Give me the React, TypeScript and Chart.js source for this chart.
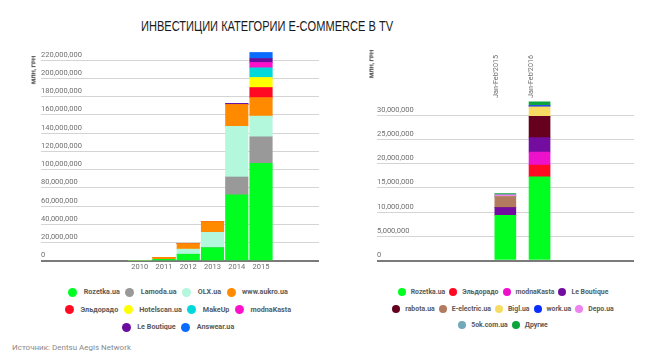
import React, { useEffect, useRef } from 'react';
import { Chart, registerables } from 'chart.js';

Chart.register(...registerables);

const M = 1000000;

// ---------- Left chart: years ----------
const years = [2010, 2011, 2012, 2013, 2014, 2015];
const leftNames = ['Rozetka.ua', 'Lamoda.ua', 'OLX.ua', 'www.aukro.ua', 'Эльдорадо', 'Hotelscan.ua', 'MakeUp', 'modnaKasta', 'Le Boutique', 'Answear.ua'];
const leftColors = ['#00ff21', '#999999', '#b3f7dc', '#ff8a00', '#ff0a22', '#ffff00', '#00d9d9', '#ff11cc', '#6a0d9e', '#0a6cff'];
const leftLegendRows = [4, 4, 2];
// values in millions UAH
const rozetkaYears = [0, 1.8, 7.4, 14.6, 72.6, 107];
const lamodaYears = [0, 0, 0, 0, 19.4, 29];
const olxYears = [0, 0, 5.6, 16.8, 55.4, 22.7];
const aukroYears = [0, 2.2, 6.0, 11.7, 24, 20.3];
const eldoradoYears = [0, 0, 0, 0, 0, 11];
const hotelscanYears = [0, 0, 0, 0, 0, 11];
const makeupYears = [0, 0, 0, 0, 0, 10.6];
const modnaYears = [0, 0, 0, 0, 0, 5.8];
const boutiqueYears = [0, 0, 0, 0, 1.2, 4.4];
const answearYears = [0, 0, 0, 0, 0, 6.6];
const leftSeries = [rozetkaYears, lamodaYears, olxYears, aukroYears, eldoradoYears, hotelscanYears, makeupYears, modnaYears, boutiqueYears, answearYears];
const leftTicks = [0, 20, 40, 60, 80, 100, 120, 140, 160, 180, 200, 220];

// ---------- Right chart: Jan-Feb periods ----------
const periods = ["Jan-Feb'2015", "Jan-Feb'2016"];
const rightNames = ['Rozetka.ua', 'Эльдорадо', 'modnaKasta', 'Le Boutique', 'rabota.ua', 'E-electric.ua', 'Bigl.ua', 'work.ua', 'Depo.ua', '5ok.com.ua', 'Другие'];
const rightColors = ['#00ff21', '#ff0a22', '#ee11cc', '#730d9f', '#66001f', '#b27a5f', '#f7dc63', '#0a2eff', '#ee82ee', '#72a9b8', '#0aa33c'];
const rightLegendRows = [4, 5, 2];
const rozetkaPer = [9.36, 17.3];
const eldoradoPer = [0, 2.45];
const modnaPer = [0, 2.65];
const boutiquePer = [1.6, 3.0];
const rabotaPer = [0, 4.4];
const eelectricPer = [2.25, 0];
const biglPer = [0, 1.95];
const workPer = [0, 0.3];
const depoPer = [0.35, 0];
const fiveokPer = [0, 0];
const otherPer = [0.3, 0.75];
const rightSeries = [rozetkaPer, eldoradoPer, modnaPer, boutiquePer, rabotaPer, eelectricPer, biglPer, workPer, depoPer, fiveokPer, otherPer];
const rightTicks = [0, 5, 10, 15, 20, 25, 30];

const tickFont = { family: 'Roboto', size: 7.5 };
const tickColor = '#6f6f6f';

const gridOpts = {
  drawTicks: false,
  color: (c: any) => (c.tick && c.tick.value === 0 ? '#7a7a7a' : '#d4d4d4'),
  lineWidth: (c: any) => (c.tick && c.tick.value === 0 ? 2 : 1),
};

function leftConfig(): any {
  return {
    type: 'bar',
    data: {
      datasets: leftSeries.map((vals, i) => ({
        label: leftNames[i],
        data: years.map((yr, j) => ({ x: yr, y: vals[j] * M })),
        backgroundColor: leftColors[i],
        borderWidth: 0,
        barThickness: 22.5,
      })),
    },
    options: {
      responsive: false,
      animation: false,
      devicePixelRatio: 1,
      layout: { padding: { left: 31, right: 31, top: 11, bottom: 6 } },
      plugins: { legend: { display: false }, tooltip: { enabled: false } },
      scales: {
        x: {
          type: 'linear',
          offset: false,
          stacked: true,
          min: 2005.93,
          max: 2017.39,
          grid: { display: false, drawTicks: false },
          border: { display: false },
          afterBuildTicks: (axis: any) => { axis.ticks = years.map((v) => ({ value: v })); },
          ticks: { callback: (v: any) => String(v), font: tickFont, color: tickColor, padding: 2, maxRotation: 0, autoSkip: false },
        },
        y: {
          stacked: true,
          min: 0,
          max: 230 * M,
          border: { display: false },
          grid: gridOpts,
          afterBuildTicks: (axis: any) => { axis.ticks = leftTicks.map((v) => ({ value: v * M })); },
          ticks: {
            mirror: true,
            padding: 0,
            labelOffset: -5.5,
            font: tickFont,
            color: tickColor,
            callback: (v: any) => Number(v).toLocaleString('en-US'),
          },
        },
      },
    },
  };
}

function rightConfig(): any {
  return {
    type: 'bar',
    data: {
      datasets: rightSeries.map((vals, i) => ({
        label: rightNames[i],
        data: periods.map((_p, j) => ({ x: j, y: vals[j] * M })),
        backgroundColor: rightColors[i],
        borderWidth: 0,
        barThickness: 21,
      })),
    },
    options: {
      responsive: false,
      animation: false,
      devicePixelRatio: 1,
      layout: { padding: { left: 12, right: 11, top: 12, bottom: 2 } },
      plugins: { legend: { display: false }, tooltip: { enabled: false } },
      scales: {
        x: {
          type: 'linear',
          position: 'top',
          offset: false,
          stacked: true,
          min: -3.75,
          max: 3.76,
          grid: { display: false, drawTicks: false },
          border: { display: false },
          afterBuildTicks: (axis: any) => { axis.ticks = periods.map((_p, j) => ({ value: j })); },
          ticks: {
            callback: (v: any) => periods[v] ?? '',
            font: { family: 'Roboto', size: 7.2 },
            color: tickColor,
            padding: 3,
            minRotation: 90,
            maxRotation: 90,
            autoSkip: false,
          },
        },
        y: {
          stacked: true,
          min: 0,
          max: 33 * M,
          border: { display: false },
          grid: gridOpts,
          afterBuildTicks: (axis: any) => { axis.ticks = rightTicks.map((v) => ({ value: v * M })); },
          ticks: {
            mirror: true,
            padding: 0,
            labelOffset: -5.5,
            font: tickFont,
            color: tickColor,
            callback: (v: any) => Number(v).toLocaleString('en-US'),
          },
        },
      },
    },
  };
}

function ChartCanvas(props: { make: () => any; left: number; top: number; width: number; height: number }) {
  const ref = useRef<HTMLCanvasElement>(null);
  useEffect(() => {
    const chart = new Chart(ref.current as HTMLCanvasElement, props.make());
    return () => chart.destroy();
  }, []);
  return (
    <canvas
      ref={ref}
      width={props.width}
      height={props.height}
      style={{ position: 'absolute', left: props.left, top: props.top, width: props.width, height: props.height }}
    />
  );
}

function Legend(props: {
  names: string[]; colors: string[]; rows: number[]; center: number; top: number; rowGap: number;
  fontSize: number; dot: number; dotGap: number; itemGap: number;
}) {
  const rowsItems: number[][] = [];
  let k = 0;
  props.rows.forEach((n) => {
    const r: number[] = [];
    for (let j = 0; j < n; j++) r.push(k++);
    rowsItems.push(r);
  });
  return (
    <div
      style={{
        position: 'absolute',
        left: props.center - 150,
        top: props.top,
        width: 300,
        display: 'flex',
        flexDirection: 'column',
        alignItems: 'center',
        rowGap: props.rowGap,
        fontFamily: 'Roboto',
        fontWeight: 'bold',
        fontSize: props.fontSize,
        lineHeight: '10px',
        color: '#5a5a5a',
      }}
    >
      {rowsItems.map((r, ri) => (
        <div key={ri} style={{ display: 'flex', columnGap: props.itemGap, height: 10 }}>
          {r.map((i) => (
            <div key={i} style={{ display: 'flex', alignItems: 'center', height: 10, whiteSpace: 'nowrap' }}>
              <span style={{ display: 'inline-block', width: props.dot, height: props.dot, borderRadius: '50%', background: props.colors[i], marginRight: props.dotGap }} />
              <span>{props.names[i]}</span>
            </div>
          ))}
        </div>
      ))}
    </div>
  );
}

function AxisTitle(props: { x: number; y: number; text: string }) {
  return (
    <div
      style={{
        position: 'absolute',
        left: props.x,
        top: props.y,
        transform: 'translate(-50%, -50%) rotate(-90deg)',
        fontFamily: 'Roboto',
        fontWeight: 'bold',
        fontSize: 6,
        color: '#333',
        whiteSpace: 'nowrap',
        lineHeight: '7px',
      }}
    >
      {props.text}
    </div>
  );
}

export default function App() {
  return (
    <div style={{ position: 'absolute', left: 0, top: 0, width: 649, height: 356, background: '#fff', overflow: 'hidden' }}>
      <div
        style={{
          position: 'absolute',
          left: 267,
          top: 26,
          transform: 'translate(-50%, -50%) scaleX(0.79)',
          fontFamily: "'Liberation Sans', Arial, sans-serif",
          fontSize: 14,
          color: '#1a1a1a',
          whiteSpace: 'nowrap',
        }}
      >
        ИНВЕСТИЦИИ КАТЕГОРИИ E-COMMERCE В TV
      </div>
      <ChartCanvas make={leftConfig} left={10} top={40} width={340} height={240} />
      <ChartCanvas make={rightConfig} left={365} top={40} width={280} height={225} />
      <AxisTitle x={32.5} y={70} text="МЛН, ГРН" />
      <AxisTitle x={370.5} y={64} text="МЛН, ГРН" />
      <Legend names={leftNames} colors={leftColors} rows={leftLegendRows} center={178} top={287} rowGap={7.5}
        fontSize={7.2} dot={9} dotGap={6.5} itemGap={5.5} />
      <Legend names={rightNames} colors={rightColors} rows={rightLegendRows} center={503} top={287} rowGap={6.5}
        fontSize={6.9} dot={8} dotGap={5} itemGap={4} />
      <div
        style={{
          position: 'absolute',
          left: 12,
          top: 343,
          fontFamily: 'Roboto',
          fontSize: 8,
          color: '#8a8a8a',
          whiteSpace: 'nowrap',
          lineHeight: '10px',
        }}
      >
        Источник: Dentsu Aegis Network
      </div>
    </div>
  );
}
